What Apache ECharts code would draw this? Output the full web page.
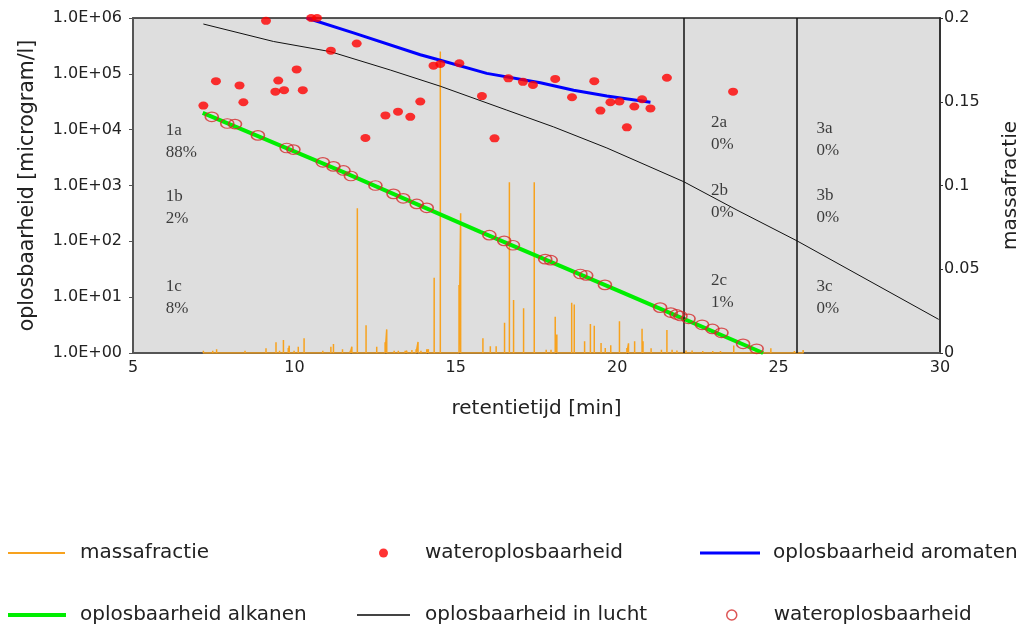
<!DOCTYPE html>
<html><head><meta charset="utf-8">
<script src="https://cdn.jsdelivr.net/npm/echarts@6/dist/echarts.min.js"></script>
<style>html,body{margin:0;padding:0;background:#fff}#c{width:1027px;height:633px}</style>
</head><body><div id="c"></div>
<script>
// ---- data ----
// massafractie peaks: retention time [min] and mass fraction
const peakTimes   = [7.18,7.47,7.59,8.47,9.12,9.43,9.54,9.66,9.81,9.84,9.99,10.12,10.30,10.88,11.13,11.21,11.49,11.73,11.78,11.95,12.22,12.55,12.81,12.86,13.09,13.22,13.43,13.48,13.64,13.77,13.83,13.92,14.10,14.15,14.33,14.52,15.10,15.15,15.84,16.07,16.25,16.51,16.66,16.79,17.10,17.43,17.80,17.95,18.08,18.13,18.59,18.67,18.99,19.17,19.29,19.50,19.63,19.80,20.07,20.30,20.35,20.54,20.77,20.80,21.05,21.37,21.54,21.70,21.85,22.13,22.32,22.65,22.96,23.20,23.61,24.76,25.49,25.76];
const peakHeights = [0.0014,0.0014,0.0022,0.0014,0.0028,0.0064,0.0014,0.0078,0.0030,0.0044,0.0014,0.0038,0.0088,0.0014,0.0038,0.0054,0.0022,0.0014,0.0038,0.0864,0.0165,0.0038,0.0064,0.0141,0.0014,0.0014,0.0014,0.0014,0.0018,0.0022,0.0066,0.0014,0.0022,0.0022,0.045,0.18,0.0406,0.0834,0.0088,0.004,0.004,0.018,0.102,0.0316,0.0267,0.102,0.002,0.002,0.0217,0.011,0.030,0.029,0.007,0.0173,0.0163,0.006,0.003,0.0047,0.019,0.003,0.0058,0.007,0.0145,0.007,0.0028,0.002,0.0137,0.002,0.0015,0.0015,0.0015,0.0012,0.0012,0.0012,0.0045,0.0028,0.0012,0.0018];
const massStart = 7.18, massEnd = 25.76;

// wateroplosbaarheid (filled red dots) [microgram/l]
const waterX = [7.18,7.57,8.30,8.42,9.12,9.50,9.41,9.68,10.07,10.26,10.52,10.70,11.13,11.93,12.20,12.82,13.21,13.59,13.90,14.31,14.52,15.11,15.81,16.20,16.63,17.08,17.39,18.08,18.60,19.29,19.48,19.79,20.07,20.30,20.53,20.77,21.03,21.54,23.59];
const waterY = [2.7e4,7.4e4,6.2e4,3.1e4,8.9e5,7.6e4,4.8e4,5.1e4,1.2e5,5.1e4,1.0e6,1.0e6,2.6e5,3.5e5,7.1e3,1.8e4,2.1e4,1.7e4,3.2e4,1.4e5,1.5e5,1.55e5,4.0e4,7.0e3,8.3e4,7.2e4,6.3e4,8.1e4,3.8e4,7.4e4,2.2e4,3.1e4,3.2e4,1.1e4,2.6e4,3.5e4,2.4e4,8.5e4,4.8e4];

// wateroplosbaarheid (open circles, alkanes)
const circX = [7.44,7.92,8.16,8.87,9.76,9.97,10.88,11.21,11.52,11.75,12.51,13.07,13.37,13.79,14.10,16.04,16.50,16.77,17.77,17.94,18.86,19.04,19.62,21.33,21.66,21.84,21.96,22.21,22.63,22.95,23.23,23.90,24.32];
const circY = [1.7e4,1.29e4,1.26e4,7.9e3,4.7e3,4.4e3,2.6e3,2.2e3,1.86e3,1.48e3,1.0e3,708,589,468,398,129,102,85,48,46,26,24.5,16.6,6.5,5.3,4.9,4.6,4.1,3.2,2.7,2.3,1.46,1.19];

// oplosbaarheid aromaten
const aromX = [10.38,11.83,13.90,14.52,15.96,17.62,18.65,19.68,21.03];
const aromY = [1.0e6,5.4e5,2.2e5,1.75e5,1.02e5,6.9e4,5.1e4,4.0e4,3.1e4];

// oplosbaarheid alkanen
const alkX = [7.16,11.50,15.76,20.10,24.52];
const alkY = [2.0e4,1.75e3,148,12.6,1.0];

// oplosbaarheid in lucht
const airX = [7.18,9.35,11.11,12.97,14.52,16.58,18.03,19.68,22.06,23.71,25.57,29.96];
const airY = [7.8e5,3.8e5,2.5e5,1.17e5,6.0e4,2.24e4,1.12e4,4.7e3,1.17e3,363,102,4.0];

// region boundaries
const boundY = [1170, 100];
const boundX = [22.06, 25.57];

// region labels
const regionText = ['1a\n88%','1b\n2%','1c\n8%','2a\n0%','2b\n0%','2c\n1%','3a\n0%','3b\n0%','3c\n0%'];
const regionX = [6.0,6.0,6.0,22.89,22.89,22.89,26.16,26.16,26.16];
const regionY = [6150,405,9.9,8380,527,12.5,6530,424,10];

// tick labels
const xTicks = [5,10,15,20,25,30];
const yTicksRight = [0,0.05,0.1,0.15,0.2];

// ---- build ----
const zip = (a,b) => a.map((v,i)=>[v,b[i]]);
const massData = [[massStart,0]];
peakTimes.forEach((t,i)=>{ massData.push([t,0],[t,peakHeights[i]],[t,0]); });
massData.push([massEnd,0]);

const ELL = 'path://M0,50 A50,50 0 1,1 100,50 A50,50 0 1,1 0,50 Z';
const SANS = 'DejaVu Sans';
const TXT = '#222';

const chart = echarts.init(document.getElementById('c'), null, {renderer:'canvas'});

function leg(name, left, top, w, h, pad, extra){
  return Object.assign({
    data:[name], left:left, top:top, padding:0, itemWidth:w, itemHeight:h,
    selectedMode:false,
    textStyle:{fontFamily:SANS, fontSize:20, color:TXT, padding:[0,0,0,pad], lineHeight:24},
    formatter: n => n.replace(' (alkanen)','')
  }, extra||{});
}

chart.setOption({
  animation:false,
  grid:{left:133, right:87, top:18, bottom:280, outerBoundsMode:'none', containLabel:false,
        show:true, backgroundColor:'#dedede', borderColor:'#222', borderWidth:1.5},
  legend:[
    leg('massafractie', 8, 541, 57, 2, 10, {icon:'rect', itemStyle:{color:'#f7a21e'}}),
    leg('wateroplosbaarheid', 379, 541, 9, 9, 32, {icon:'circle', itemStyle:{color:'#ff0000'}}),
    leg('oplosbaarheid aromaten', 700, 541, 60, 3, 8, {icon:'rect', itemStyle:{color:'#0000ff'}}),
    leg('oplosbaarheid alkanen', 8, 603, 58, 4, 9, {icon:'rect', itemStyle:{color:'#00ee00'}}),
    leg('oplosbaarheid in lucht', 357, 603, 53, 2, 10, {icon:'rect', itemStyle:{color:'#444'}}),
    leg('wateroplosbaarheid (alkanen)', 726, 603, 10, 10, 32, {icon:'circle', itemStyle:{color:'transparent', borderColor:'#d42a2a', borderWidth:1.5}})
  ],
  xAxis:{
    type:'value', min:5, max:30, interval:5,
    axisLine:{show:true, lineStyle:{color:'#555', width:2}},
    axisTick:{show:false}, splitLine:{show:false},
    axisLabel:{fontFamily:SANS, fontSize:16, color:TXT, margin:7, formatter: v => xTicks.includes(v) ? String(v) : ''},
    name:'retentietijd [min]', nameLocation:'middle', nameGap:46,
    nameTextStyle:{fontFamily:SANS, fontSize:20, color:TXT}
  },
  yAxis:[
    {
      type:'log', logBase:10, min:1, max:1e6, position:'left',
      axisLine:{show:true, lineStyle:{color:'#555', width:2}},
      axisTick:{show:true, length:4, lineStyle:{color:'#555'}},
      splitLine:{show:false},
      axisLabel:{fontFamily:SANS, fontSize:16, color:TXT, margin:11,
        formatter: v => { const e = Math.round(Math.log10(v)); return '1.0E+' + (e<10?'0':'') + e; }},
      name:'oplosbaarheid [microgram/l]', nameLocation:'middle', nameGap:95, nameRotate:90,
      nameTextStyle:{fontFamily:SANS, fontSize:20.5, color:TXT}
    },
    {
      type:'value', min:0, max:0.2, interval:0.05, position:'right',
      axisLine:{show:true, lineStyle:{color:'#333', width:2}},
      axisTick:{show:true, length:3, lineStyle:{color:'#333'}},
      splitLine:{show:false},
      axisLabel:{fontFamily:SANS, fontSize:16, color:TXT, margin:4,
        formatter: v => { const r = +v.toFixed(2); return yTicksRight.some(t=>Math.abs(t-r)<1e-9) ? String(r) : ''; }},
      name:'massafractie', nameLocation:'middle', nameGap:61, nameRotate:90,
      nameTextStyle:{fontFamily:SANS, fontSize:20, color:TXT}
    }
  ],
  series:[
    {
      name:'massafractie', type:'line', yAxisIndex:1, data:massData, symbol:'none',
      lineStyle:{color:'#f7a21e', width:1.5}, itemStyle:{color:'#f7a21e'}, z:2,
      markLine:{silent:true, symbol:['none','none'], label:{show:false},
        lineStyle:{color:'#111', width:1.5, type:'solid'},
        data:[...boundY.map(v=>({yAxis:v})), ...boundX.map(v=>({xAxis:v}))]}
    },
    {
      name:'oplosbaarheid in lucht', type:'line', yAxisIndex:0, data:zip(airX,airY), symbol:'none',
      lineStyle:{color:'#111', width:1}, itemStyle:{color:'#111'}, z:3
    },
    {
      name:'oplosbaarheid aromaten', type:'line', yAxisIndex:0, data:zip(aromX,aromY), symbol:'none',
      lineStyle:{color:'#0000ff', width:3}, itemStyle:{color:'#0000ff'}, z:4
    },
    {
      name:'oplosbaarheid alkanen', type:'line', yAxisIndex:0, data:zip(alkX,alkY), symbol:'none',
      lineStyle:{color:'#00ee00', width:4}, itemStyle:{color:'#00ee00'}, z:4
    },
    {
      name:'wateroplosbaarheid', type:'scatter', yAxisIndex:0, data:zip(waterX,waterY),
      symbol:ELL, symbolSize:[10,8], itemStyle:{color:'#ff0000'}, z:5
    },
    {
      name:'wateroplosbaarheid (alkanen)', type:'scatter', yAxisIndex:0, data:zip(circX,circY),
      symbol:ELL, symbolSize:[13,9.5], itemStyle:{color:'transparent', borderColor:'#d42a2a', borderWidth:1.4}, z:6
    },
    {
      name:'regio', type:'scatter', yAxisIndex:0,
      data:regionX.map((x,i)=>[x, regionY[i], regionText[i]]),
      symbolSize:1, itemStyle:{color:'transparent'}, silent:true, z:7,
      label:{show:true, position:'right', distance:0, formatter:p=>p.value[2],
        fontFamily:'Liberation Serif', fontSize:17, lineHeight:22, color:'#111', align:'left'}
    }
  ]
});
</script></body></html>
